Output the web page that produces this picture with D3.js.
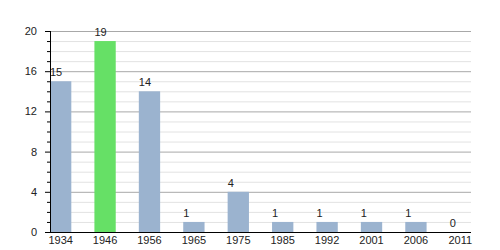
<!DOCTYPE html>
<html>
<head>
<meta charset="utf-8">
<script src="https://cdn.jsdelivr.net/npm/d3@7"></script>
<style>
  body { margin: 0; background: #fff; }
  text { font-family: "Liberation Sans", Arial, sans-serif; font-size: 11px; fill: #222; }
</style>
</head>
<body>
<svg id="chart" width="500" height="250"></svg>
<script>
// years and seat counts
const years = ["1934", "1946", "1956", "1965", "1975", "1985", "1992", "2001", "2006", "2011"];
const seats = [15, 19, 14, 1, 4, 1, 1, 1, 1, 0];
const highlightYear = "1946";
const yTicks = [0, 4, 8, 12, 16, 20];

const svg = d3.select("#chart");
const plotLeft = 50, plotRight = 471, plotTop = 31, plotBottom = 232;

let x = d3.scaleBand().domain(years).range([plotLeft, plotRight]).paddingInner(0.52).paddingOuter(0);
let y = d3.scaleLinear().domain([0, 20]).range([plotBottom, plotTop]);

// minor grid every 1, major every 4
let minor = d3.range(1, 21).filter(d => d % 4 != 0);
svg.append("g").selectAll("line").data(minor).join("line")
    .attr("x1", plotLeft).attr("x2", plotRight)
    .attr("y1", d => y(d) + 0.5).attr("y2", d => y(d) + 0.5)
    .attr("stroke", "#e2e2e2");
svg.append("g").selectAll("line").data(yTicks.filter(d => d > 0)).join("line")
    .attr("x1", plotLeft).attr("x2", plotRight)
    .attr("y1", d => y(d) + 0.5).attr("y2", d => y(d) + 0.5)
    .attr("stroke", "#a8a8a8");

// bars
svg.append("g").selectAll("rect").data(years).join("rect")
    .attr("x", d => x(d))
    .attr("width", x.bandwidth())
    .attr("y", (d, i) => y(seats[i]))
    .attr("height", (d, i) => plotBottom - y(seats[i]))
    .attr("fill", d => d == highlightYear ? "#66e066" : "#9bb3cf");

// value labels sit at the left edge of each bar
svg.append("g").selectAll("text").data(years).join("text")
    .attr("x", d => x(d))
    .attr("y", (d, i) => y(seats[i]) - 5)
    .attr("text-anchor", "start")
    .text((d, i) => seats[i]);

// y axis with minor ticks
svg.append("g").selectAll("line").data(d3.range(0, 21)).join("line")
    .attr("x1", d => d % 4 == 0 ? plotLeft - 5 : plotLeft - 3).attr("x2", plotLeft)
    .attr("y1", d => y(d) + 0.5).attr("y2", d => y(d) + 0.5)
    .attr("stroke", "#000");
svg.append("line")
    .attr("x1", plotLeft + 0.5).attr("x2", plotLeft + 0.5)
    .attr("y1", plotTop).attr("y2", plotBottom)
    .attr("stroke", "#000");
svg.append("g").selectAll("text").data(yTicks).join("text")
    .attr("x", 37).attr("y", d => y(d) + 4)
    .attr("text-anchor", "end")
    .text(d => d);

// x axis
svg.append("line")
    .attr("x1", plotLeft - 5).attr("x2", plotRight)
    .attr("y1", plotBottom + 0.5).attr("y2", plotBottom + 0.5)
    .attr("stroke", "#000").attr("stroke-width", 1.2);
svg.append("g").selectAll("text").data(years).join("text")
    .attr("x", d => x(d) + x.bandwidth() / 2)
    .attr("y", 244)
    .attr("text-anchor", "middle")
    .text(d => d);
</script>
</body>
</html>
